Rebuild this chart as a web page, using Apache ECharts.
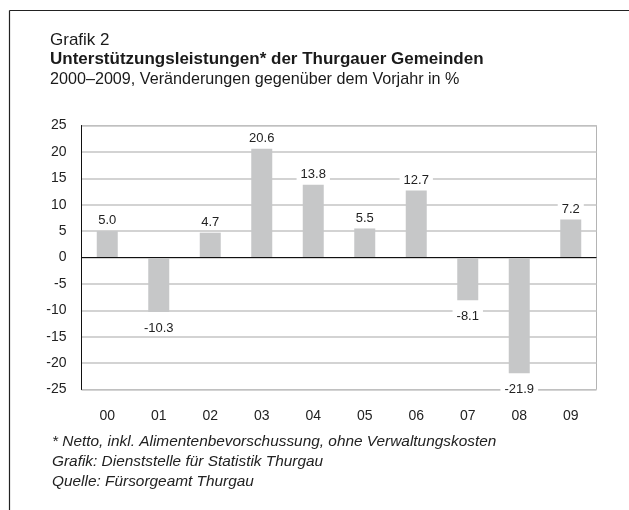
<!DOCTYPE html>
<html>
<head>
<meta charset="utf-8">
<script src="https://cdn.jsdelivr.net/npm/echarts@6/dist/echarts.min.js"></script>
<style>
html,body{margin:0;padding:0;background:#fff;}
#c{width:629px;height:510px;}
</style>
</head>
<body>
<div id="c"></div>
<script>
const categories = ['00','01','02','03','04','05','06','07','08','09'];
const values = [5.0, -10.3, 4.7, 20.6, 13.8, 5.5, 12.7, -8.1, -21.9, 7.2];
const yMin = -25, yMax = 25, yStep = 5;
const titleText = 'Grafik 2';
const mainTitle = 'Unterstützungsleistungen* der Thurgauer Gemeinden';
const subTitle = '2000–2009, Veränderungen gegenüber dem Vorjahr in %';
const notes = [
  '* Netto, inkl. Alimentenbevorschussung, ohne Verwaltungskosten',
  'Grafik: Dienststelle für Statistik Thurgau',
  'Quelle: Fürsorgeamt Thurgau'
];

const FONT = '"Liberation Sans", Arial, sans-serif';
const chart = echarts.init(document.getElementById('c'), null, {renderer: 'canvas'});

const labelStyle = {
  show: true,
  fontFamily: FONT,
  fontSize: 13,
  color: '#222',
  backgroundColor: '#fff',
  padding: [1, 4],
  formatter: p => p.value.toFixed(1)
};

function headText(text, y, size, weight, sx) {
  return {
    type: 'text', x: 50, y: y, scaleX: sx, silent: true,
    style: {text: text, x: 0, y: 0, fontFamily: FONT, fontSize: size, fontWeight: weight,
            fill: '#1a1a1a', align: 'left', verticalAlign: 'middle'}
  };
}

chart.setOption({
  animation: false,
  backgroundColor: '#fff',
  grid: {left: 81.5, right: 32.5, top: 125.5, bottom: 120.5, show: true, borderColor: '#b4b4b4', borderWidth: 1},
  xAxis: {
    type: 'category',
    data: categories,
    axisLine: {show: false, onZero: false},
    axisTick: {show: false},
    axisLabel: {fontFamily: FONT, fontSize: 14, color: '#222', margin: 20},
    splitLine: {show: false}
  },
  yAxis: {
    type: 'value',
    min: yMin, max: yMax, interval: yStep,
    axisLine: {show: true, lineStyle: {color: '#111', width: 1}},
    axisTick: {show: false},
    axisLabel: {fontFamily: FONT, fontSize: 14, color: '#222', margin: 15},
    splitLine: {show: true, lineStyle: {color: '#c4c4c4', width: 1.5}}
  },
  series: [{
    type: 'bar',
    data: values.map(v => ({
      value: v,
      label: Object.assign({}, labelStyle, {position: v >= 0 ? 'top' : 'bottom', distance: v >= 0 ? 3 : 9})
    })),
    barWidth: 21,
    itemStyle: {color: '#c6c7c8'},
    markLine: {
      silent: true,
      symbol: 'none',
      label: {show: false},
      lineStyle: {color: '#111', width: 1.2, type: 'solid'},
      data: [{yAxis: 0}]
    }
  }],
  graphic: [
    {type: 'line', shape: {x1: 9.5, y1: 10.5, x2: 629, y2: 10.5}, style: {stroke: '#222', lineWidth: 1.2}},
    {type: 'line', shape: {x1: 9.5, y1: 10.5, x2: 9.5, y2: 510}, style: {stroke: '#222', lineWidth: 1.2}},
    headText(titleText, 40.5, 17, 'normal', 1),
    headText(mainTitle, 59.5, 17, 'bold', 1),
    headText(subTitle, 79.5, 17, 'normal', 0.95),
    ...notes.map((t, i) => ({
      type: 'text', x: 52, y: 442 + i * 20, silent: true,
      style: {text: t, x: 0, y: 0, fontFamily: FONT, fontSize: 15.4, fontStyle: 'italic', fill: '#222',
              align: 'left', verticalAlign: 'middle'}
    }))
  ]
});
</script>
</body>
</html>
